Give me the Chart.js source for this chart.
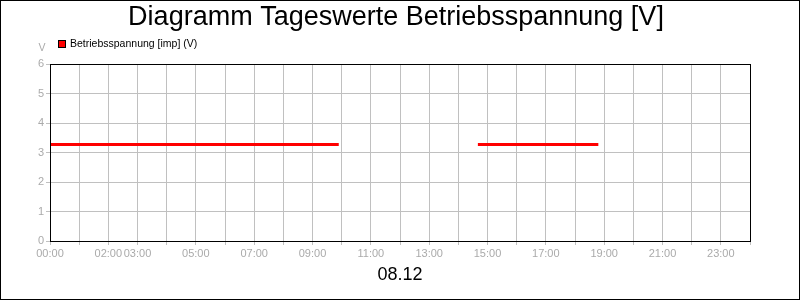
<!DOCTYPE html>
<html>
<head>
<meta charset="utf-8">
<script src="https://cdn.jsdelivr.net/npm/chart.js@4"></script>
<style>
  html, body { margin: 0; padding: 0; background: #fff; }
</style>
</head>
<body>
<canvas id="chart" width="800" height="300"></canvas>
<script>
const chartTitle = 'Diagramm Tageswerte Betriebsspannung [V]';
const seriesName = 'Betriebsspannung [imp] (V)';
const dayLabel = '08.12';
const unitLabel = 'V';

// hours of day, null value = no measurement
const hours = [0, 9.9, 12, 14.67, 18.8];
const volts = [3.27, 3.27, null, 3.27, 3.27];
const hourLabels = ['00:00', '02:00', '03:00', '05:00', '07:00', '09:00', '11:00',
  '13:00', '15:00', '17:00', '19:00', '21:00', '23:00'];

const frame = {
  id: 'frame',
  afterDraw(chart) {
    const ctx = chart.ctx;
    const a = chart.chartArea;
    ctx.save();
    ctx.strokeStyle = '#000';
    ctx.lineWidth = 1;
    ctx.strokeRect(Math.round(a.left) + 0.5, Math.round(a.top) + 0.5,
      Math.round(a.right - a.left), Math.round(a.bottom - a.top));
    ctx.strokeRect(0.5, 0.5, 799, 299);

    ctx.fillStyle = '#000';
    ctx.textAlign = 'center';
    ctx.textBaseline = 'middle';
    ctx.font = '27px "Liberation Sans", Arial, sans-serif';
    ctx.fillText(chartTitle, 396, 18);

    ctx.fillStyle = '#ff0000';
    ctx.fillRect(58, 40, 8, 8);
    ctx.strokeStyle = '#000';
    ctx.strokeRect(58.5, 40.5, 7, 7);
    ctx.fillStyle = '#000';
    ctx.textAlign = 'left';
    ctx.font = '10.5px "Liberation Sans", Arial, sans-serif';
    ctx.fillText(seriesName, 70, 44);

    ctx.fillStyle = '#aaaaaa';
    ctx.textAlign = 'center';
    ctx.fillText(unitLabel, 42, 48);
    ctx.restore();
  }
};

new Chart(document.getElementById('chart'), {
  type: 'line',
  data: {
    datasets: [{
      label: seriesName,
      data: hours.map((h, i) => ({ x: h, y: volts[i] })),
      borderColor: '#ff0000',
      borderWidth: 3,
      pointRadius: 0,
      spanGaps: false,
      tension: 0
    }]
  },
  plugins: [frame],
  options: {
    responsive: false,
    animation: false,
    layout: { padding: { top: 64, right: 50, left: 0, bottom: 0 } },
    plugins: {
      legend: { display: false },
      tooltip: { enabled: false }
    },
    scales: {
      x: {
        type: 'linear',
        min: 0,
        max: 24,
        afterFit(s) { s.height = 59; },
        border: { color: '#000', width: 1 },
        grid: { color: '#c0c0c0', tickLength: 4 },
        ticks: {
          stepSize: 1,
          autoSkip: false,
          maxRotation: 0,
          padding: 2,
          color: '#aaaaaa',
          font: { family: '"Liberation Sans", Arial, sans-serif', size: 11 },
          callback(v) {
            const t = String(v).padStart(2, '0') + ':00';
            return hourLabels.includes(t) ? t : '';
          }
        },
        title: {
          display: true,
          text: dayLabel,
          color: '#000',
          font: { family: '"Liberation Sans", Arial, sans-serif', size: 18 },
          padding: { top: 0, bottom: 14 }
        }
      },
      y: {
        min: 0,
        max: 6,
        afterFit(s) { s.width = 50; },
        border: { color: '#000', width: 1 },
        grid: { color: '#c0c0c0', tickLength: 4 },
        ticks: {
          stepSize: 1,
          padding: 2,
          color: '#aaaaaa',
          font: { family: '"Liberation Sans", Arial, sans-serif', size: 11 }
        }
      }
    }
  }
});
</script>
</body>
</html>
